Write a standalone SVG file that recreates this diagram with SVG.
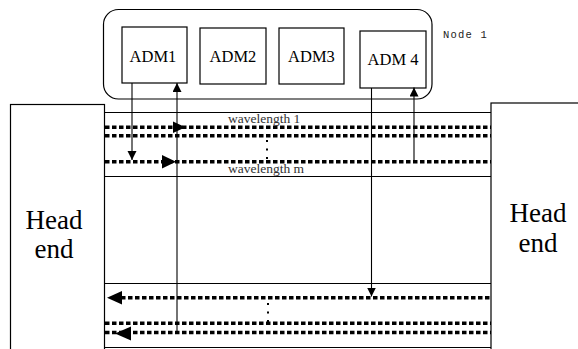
<svg xmlns="http://www.w3.org/2000/svg" width="578" height="349" viewBox="0 0 578 349">
<style>
.box{fill:#fff;stroke:#000;stroke-width:1.2}
.ln{fill:none;stroke:#000;stroke-width:1.1}
.dash{fill:none;stroke:#000;stroke-width:3.5;stroke-dasharray:4.5 2.5}
.dots{fill:none;stroke:#000;stroke-width:2;stroke-dasharray:2 6.5}
.adm{font-family:"Liberation Serif",serif;font-size:16.5px;fill:#000;text-anchor:middle}
.he{font-family:"Liberation Serif",serif;font-size:27px;fill:#000;text-anchor:middle}
.wl{font-family:"Liberation Serif",serif;font-size:13.5px;fill:#333}
.nl{font-family:"Liberation Mono",monospace;font-size:10.5px;letter-spacing:1.2px;fill:#222}
.ah{fill:#000}
</style>
<defs>
<marker id="arr" markerUnits="userSpaceOnUse" markerWidth="10" markerHeight="10" refX="9" refY="4.5" orient="auto" viewBox="0 0 10 10">
<path d="M0,0 L9,4.5 L0,9 z" fill="#000"/>
</marker>
</defs>

<g id="headend-left">
<rect class="box" x="10.5" y="104.5" width="94" height="260"/>
<text class="he" x="54" y="229">Head</text>
<text class="he" x="54" y="258">end</text>
</g>

<g id="headend-right">
<rect class="box" x="491" y="103" width="100" height="260"/>
<text class="he" x="538" y="222">Head</text>
<text class="he" x="538" y="252">end</text>
</g>

<g id="node1">
<rect class="box" x="103.5" y="9.5" width="328.5" height="89.5" rx="15" ry="15"/>
<text class="nl" x="443" y="38">Node 1</text>
</g>
<g id="adm1">
<rect class="box" x="122" y="27" width="65" height="56"/>
<text class="adm" x="153" y="62">ADM1</text>
</g>
<g id="adm2">
<rect class="box" x="200" y="28" width="66" height="56"/>
<text class="adm" x="233" y="62">ADM2</text>
</g>
<g id="adm3">
<rect class="box" x="279" y="28" width="65" height="56"/>
<text class="adm" x="311.5" y="62">ADM3</text>
</g>
<g id="adm4">
<rect class="box" x="360" y="31" width="66" height="57"/>
<text class="adm" x="393" y="65">ADM 4</text>
</g>

<g id="lanes">
<line class="ln" x1="104.5" y1="112.5" x2="491" y2="112.5"/>
<line class="ln" x1="104.5" y1="176.5" x2="491" y2="176.5"/>
<line class="ln" x1="104.5" y1="283.5" x2="491" y2="283.5"/>
<line class="ln" x1="104.5" y1="347.5" x2="491" y2="347.5"/>
<text class="wl" x="228" y="122.5">wavelength 1</text>
<text class="wl" x="228" y="173">wavelength m</text>
<line class="dots" x1="267" y1="140" x2="267" y2="160"/>
<line class="dots" x1="268" y1="303" x2="268" y2="323"/>
</g>

<g id="connectors">
<line class="dash" x1="105" y1="127.3" x2="491" y2="127.3"/>
<line class="dash" x1="105" y1="135.7" x2="491" y2="135.7"/>
<line class="dash" x1="105" y1="161.7" x2="491" y2="161.7"/>
<polygon class="ah" points="173,121.5 185.5,127.3 173,133"/>
<polygon class="ah" points="162,155 176,161.7 162,168.5"/>

<line class="dash" x1="121" y1="297.7" x2="491" y2="297.7"/>
<line class="dash" x1="105" y1="323.3" x2="491" y2="323.3"/>
<line class="dash" x1="105" y1="332.5" x2="491" y2="332.5"/>
<polygon class="ah" points="107,297.7 122,291 122,304.5"/>
<polygon class="ah" points="115,333.5 131,326.5 131,340.5"/>

<line class="ln" x1="132" y1="83" x2="132" y2="160" marker-end="url(#arr)"/>
<line class="ln" x1="177" y1="333" x2="177" y2="83" marker-end="url(#arr)"/>
<line class="ln" x1="371.5" y1="88" x2="371.5" y2="296.5" marker-end="url(#arr)"/>
<line class="ln" x1="414" y1="162" x2="414" y2="87.5" marker-end="url(#arr)"/>
</g>
</svg>
